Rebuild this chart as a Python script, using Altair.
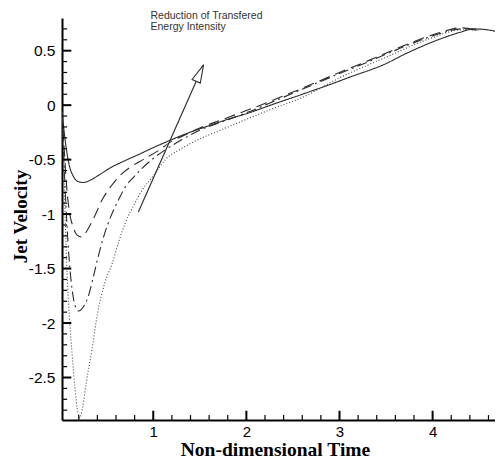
import altair as alt
import pandas as pd

# ---- data ----
x_solid = [0.02, 0.04, 0.07, 0.10, 0.14, 0.19, 0.25, 0.32, 0.42, 0.55, 0.67, 0.85, 1.0, 1.16,
           1.36, 1.56, 1.8, 2.03, 2.26, 2.6, 2.9, 3.12, 3.47, 3.73, 4.09, 4.3, 4.44, 4.6, 4.76]
y_solid = [-0.06, -0.22, -0.42, -0.56, -0.65, -0.70, -0.71, -0.69, -0.64, -0.57, -0.52, -0.45, -0.39, -0.33,
           -0.26, -0.20, -0.13, -0.07, 0.00, 0.10, 0.19, 0.26, 0.37, 0.48, 0.61, 0.67, 0.70, 0.69, 0.66]

x_dash = [0.02, 0.04, 0.07, 0.10, 0.14, 0.18, 0.23, 0.29, 0.37, 0.45, 0.55, 0.65, 0.77, 0.89, 1.05,
          1.2, 1.35, 1.5, 1.75, 2.0, 2.5, 3.0, 3.37, 3.73, 4.09, 4.3, 4.48]
y_dash = [-0.06, -0.35, -0.75, -0.98, -1.12, -1.19, -1.21, -1.15, -1.02, -0.87, -0.74, -0.64, -0.56, -0.50, -0.42,
          -0.33, -0.27, -0.21, -0.13, -0.05, 0.12, 0.30, 0.43, 0.56, 0.67, 0.71, 0.69]

x_dashdot = [0.02, 0.04, 0.07, 0.10, 0.13, 0.16, 0.20, 0.25, 0.30, 0.35, 0.40, 0.47, 0.54, 0.62, 0.70,
             0.79, 0.88, 1.0, 1.13, 1.3, 1.5, 1.75, 2.0, 2.5, 3.0, 3.37, 3.73, 4.09, 4.3, 4.48]
y_dashdot = [-0.06, -0.5, -1.05, -1.45, -1.70, -1.84, -1.89, -1.85, -1.76, -1.60, -1.42, -1.20, -1.03, -0.88, -0.75,
             -0.66, -0.58, -0.49, -0.41, -0.32, -0.23, -0.15, -0.07, 0.11, 0.29, 0.42, 0.55, 0.66, 0.70, 0.69]

x_dot = [0.02, 0.04, 0.06, 0.08, 0.10, 0.13, 0.16, 0.19, 0.21, 0.24, 0.28, 0.34, 0.40, 0.48, 0.56, 0.63,
         0.70, 0.79, 0.88, 1.0, 1.13, 1.3, 1.45, 1.72, 2.0, 2.26, 2.6, 3.0, 3.5, 4.0, 4.3, 4.5]
y_dot = [-0.06, -0.6, -1.2, -1.65, -1.95, -2.3, -2.6, -2.82, -2.87, -2.78, -2.55, -2.25, -1.92, -1.63, -1.45, -1.25,
         -1.08, -0.92, -0.78, -0.65, -0.50, -0.40, -0.33, -0.23, -0.13, -0.04, 0.07, 0.25, 0.44, 0.62, 0.69, 0.69]

arrow_x = [0.84, 1.54]
arrow_y = [-0.98, 0.37]
annot_text = "Reduction of Transfered\nEnergy Intensity"
annot_x = 0.97
annot_y = 0.865

x_major = [1, 2, 3, 4]
x_minor = [0.2, 0.4, 0.6, 0.8, 1.2, 1.4, 1.6, 1.8, 2.2, 2.4, 2.6, 2.8, 3.2, 3.4, 3.6, 3.8,
           4.2, 4.4, 4.6]
y_major = [0.5, 0, -0.5, -1, -1.5, -2, -2.5]
y_minor = [0.7, 0.6, 0.4, 0.3, 0.2, 0.1, -0.1, -0.2, -0.3, -0.4, -0.6, -0.7, -0.8, -0.9,
           -1.1, -1.2, -1.3, -1.4, -1.6, -1.7, -1.8, -1.9, -2.1, -2.2, -2.3, -2.4,
           -2.6, -2.7, -2.8]

x_min, x_max = 0.02, 4.67
y_min, y_max = -2.89, 0.80

# ---- scales / axes ----
xs = alt.Scale(domain=[x_min, x_max], nice=False, zero=False)
ys = alt.Scale(domain=[y_min, y_max], nice=False, zero=False)
xaxis = alt.Axis(values=x_major, title="Non-dimensional Time", ticks=False, grid=False,
                 domainColor="black", domainWidth=2, labelFont="Liberation Sans",
                 labelFontSize=15, labelColor="black", labelPadding=4,
                 labelExpr="toString(datum.value)",
                 titleFont="Liberation Serif", titleFontSize=19.5, titleFontWeight="bold",
                 titleColor="black", titleX=213, titleY=35, titleAlign="center",
                 titleBaseline="alphabetic")
yaxis = alt.Axis(values=y_major, title="Jet Velocity", ticks=False, grid=False,
                 domainColor="black", domainWidth=2, labelFont="Liberation Sans",
                 labelFontSize=15.5, labelColor="black", labelPadding=7,
                 labelExpr="toString(datum.value)",
                 titleFont="Liberation Serif", titleFontSize=19, titleFontWeight="bold",
                 titleColor="black", titleX=-42, titleY=198, titleAlign="center",
                 titleBaseline="middle", titleAngle=270)


def X(f="x"):
    return alt.X(f"{f}:Q", scale=xs, axis=xaxis)


def Y(f="y"):
    return alt.Y(f"{f}:Q", scale=ys, axis=yaxis)


series = [
    (x_solid, y_solid, [1, 0], "#2a2a2a"),
    (x_dash, y_dash, [11, 6], "#2a2a2a"),
    (x_dashdot, y_dashdot, [10, 4, 2, 4], "#2a2a2a"),
    (x_dot, y_dot, [1, 2], "#444444"),
]

layers = []
for xv, yv, dash, col in series:
    df = pd.DataFrame({"x": xv, "y": yv})
    layers.append(
        alt.Chart(df).mark_line(color=col, strokeWidth=1.1, strokeDash=dash, clip=True,
                                interpolate="monotone")
        .encode(x=X(), y=Y(), order="x:Q")
    )

# inward ticks on the axes
xt_major = pd.DataFrame({"x": x_major, "y": [y_min] * len(x_major),
                         "y2": [y_min + 0.085] * len(x_major)})
xt_minor = pd.DataFrame({"x": x_minor, "y": [y_min] * len(x_minor),
                         "y2": [y_min + 0.045] * len(x_minor)})
yt_major = pd.DataFrame({"y": y_major, "x": [x_min] * len(y_major),
                         "x2": [x_min + 0.1] * len(y_major)})
yt_minor = pd.DataFrame({"y": y_minor, "x": [x_min] * len(y_minor),
                         "x2": [x_min + 0.055] * len(y_minor)})
layers.append(alt.Chart(xt_major).mark_rule(color="black", strokeWidth=2)
              .encode(x=X(), y=Y(), y2="y2:Q"))
layers.append(alt.Chart(xt_minor).mark_rule(color="black", strokeWidth=1.2)
              .encode(x=X(), y=Y(), y2="y2:Q"))
layers.append(alt.Chart(yt_major).mark_rule(color="black", strokeWidth=2)
              .encode(x=X(), x2="x2:Q", y=Y()))
layers.append(alt.Chart(yt_minor).mark_rule(color="black", strokeWidth=1.2)
              .encode(x=X(), x2="x2:Q", y=Y()))

# arrow
arrow_df = pd.DataFrame({"x": [arrow_x[0]], "y": [arrow_y[0]],
                         "x2": [arrow_x[1]], "y2": [arrow_y[1]]})
layers.append(alt.Chart(arrow_df).mark_rule(color="#333333", strokeWidth=1.2)
              .encode(x=X(), y=Y(), x2="x2:Q", y2="y2:Q"))
head_df = pd.DataFrame({"x": [arrow_x[1]], "y": [arrow_y[1]]})
layers.append(alt.Chart(head_df).mark_point(shape="M0,0L0.45,1.8L-0.45,1.8Z", size=400,
                                            angle=24, filled=True, fill="white",
                                            stroke="#333333", strokeWidth=1.1, opacity=1)
              .encode(x=X(), y=Y()))

# annotation
annot_df = pd.DataFrame({"x": [annot_x], "y": [annot_y], "t": [annot_text]})
layers.append(alt.Chart(annot_df).mark_text(align="left", baseline="top", lineBreak="\n",
                                            font="Liberation Sans", fontSize=10.5,
                                            lineHeight=11, color="#333333")
              .encode(x=X(), y=Y(), text="t:N"))

chart = (
    alt.layer(*layers)
    .properties(width=433, height=402, autosize=alt.AutoSizeParams(type="none"),
                padding={"left": 54, "top": 10, "right": 0, "bottom": 38},
                background="white")
    .configure_view(stroke=None)
)

chart.save("out.html", embed_options={"renderer": "svg", "actions": False})
